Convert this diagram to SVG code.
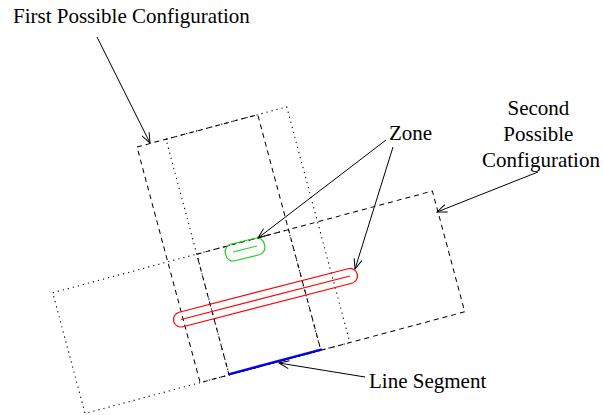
<svg xmlns="http://www.w3.org/2000/svg" width="603" height="415" viewBox="0 0 603 415">
<style>
  .lbl { font-family: "Liberation Serif", "Times New Roman", serif; font-size: 21px; fill: #000; }
  .dash { fill: none; stroke: #000; stroke-width: 1; stroke-dasharray: 5 4; }
  .dot { fill: none; stroke: #000; stroke-width: 1.1; stroke-dasharray: 1.2 4; }
  .conn { fill: none; stroke: #000; stroke-width: 1; }
  .red { fill: none; stroke: #ff0000; stroke-width: 1.2; }
  .green { fill: none; stroke: #22cc22; stroke-width: 1.2; }
</style>
<defs>
  <marker id="arr" viewBox="0 0 12 10" refX="11" refY="5" markerWidth="12" markerHeight="10" markerUnits="userSpaceOnUse" orient="auto">
    <path d="M1,1 L11,5 L1,9" fill="none" stroke="#000" stroke-width="1"/>
  </marker>
</defs>
<rect width="603" height="415" fill="#fff"/>

<g id="first-configuration">
  <rect class="dash" x="137" y="147" width="125" height="244" transform="rotate(-15 137 147)"/>
  <rect class="dot" x="166" y="139.2" width="125" height="244" transform="rotate(-15 166 139.2)"/>
</g>

<g id="second-configuration">
  <rect class="dash" x="196.7" y="254.2" width="244" height="125" transform="rotate(-15 196.7 254.2)"/>
  <rect class="dot" x="52.7" y="292.7" width="244" height="125" transform="rotate(-15 52.7 292.7)"/>
</g>

<g id="line-segment">
  <line x1="228.5" y1="374.3" x2="322" y2="349.3" stroke="#0000ff" stroke-width="2.2"/>
</g>

<g id="zone-green">
  <rect class="green" x="-20" y="-8.5" width="40" height="17" rx="7.5" transform="translate(245,249.5) rotate(-14)"/>
  <line class="green" x1="233" y1="252" x2="257" y2="246"/>
</g>

<g id="zone-red">
  <rect class="red" x="-7.5" y="-7.5" width="189.5" height="15" rx="7.5" transform="translate(181,319.5) rotate(-14.44)"/>
  <line class="red" x1="181" y1="319.5" x2="350" y2="276"/>
</g>

<g id="labels">
  <text id="label-first" class="lbl" x="13" y="23">First Possible Configuration</text>
  <text id="label-zone" class="lbl" x="389" y="140">Zone</text>
  <text id="label-second" class="lbl" text-anchor="middle">
    <tspan x="541" y="115">Second</tspan>
    <tspan x="541" y="141">Possible</tspan>
    <tspan x="541" y="167">Configuration</tspan>
  </text>
  <text id="label-line" class="lbl" x="369" y="388">Line Segment</text>
</g>

<g id="connectors">
  <line class="conn" x1="97" y1="37" x2="150" y2="143" marker-end="url(#arr)"/>
  <line class="conn" x1="386" y1="140" x2="258" y2="238" marker-end="url(#arr)"/>
  <line class="conn" x1="393" y1="147" x2="355" y2="269" marker-end="url(#arr)"/>
  <line class="conn" x1="538" y1="172" x2="437" y2="212" marker-end="url(#arr)"/>
  <line class="conn" x1="365" y1="377" x2="279" y2="363" marker-end="url(#arr)"/>
</g>
</svg>
